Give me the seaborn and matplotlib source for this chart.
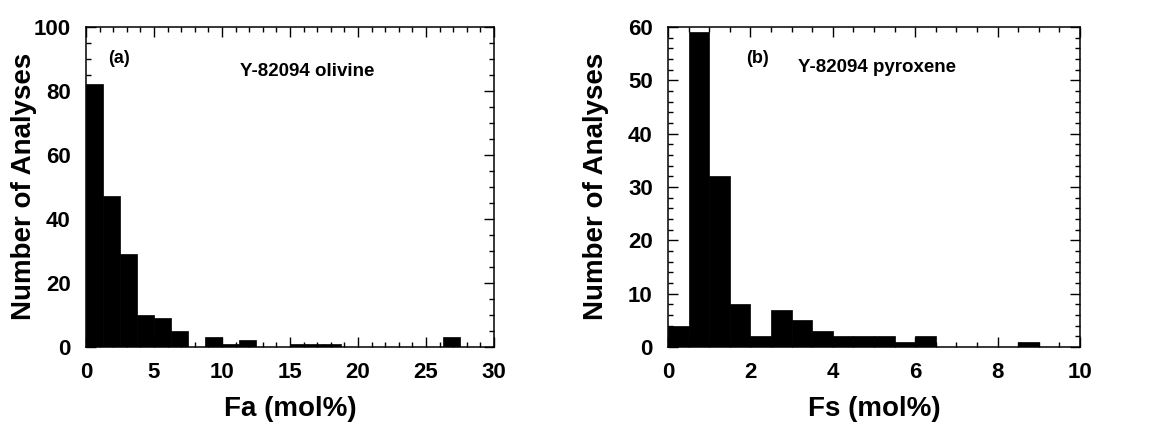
import numpy as np
import pandas as pd
import seaborn as sns
import matplotlib.pyplot as plt
from matplotlib.ticker import MultipleLocator

# (a) olivine Fa, bins of 1.25 mol%
fa_edges = [i * 1.25 for i in range(25)]
fa_counts = [82, 47, 29, 10, 9, 5, 0, 3, 1, 2, 0, 0,
             1, 1, 1, 0, 0, 0, 0, 0, 0, 3, 0, 0]

# (b) pyroxene Fs, bins of 0.5 mol%
fs_edges = [i * 0.5 for i in range(21)]
fs_counts = [4, 59, 32, 8, 2, 7, 5, 3, 2, 2,
             2, 1, 2, 0, 0, 0, 0, 1, 0, 0]

sns.set_theme(style="ticks")
plt.rcParams["font.family"] = ["Liberation Sans", "DejaVu Sans"]
plt.rcParams["font.weight"] = "bold"
for key in ["text.color", "axes.labelcolor", "xtick.color", "ytick.color"]:
    plt.rcParams[key] = "black"

fig = plt.figure(figsize=(11.51, 4.23), dpi=100)
ax1 = fig.add_axes([0.0747, 0.18, 0.3545, 0.7565])
ax2 = fig.add_axes([0.5804, 0.18, 0.358, 0.7565])


def draw_panel(ax, edges, counts, xlabel, ymax, xmaj, xmin, ymaj, ymin, ypad):
    e = np.asarray(edges)
    df = pd.DataFrame({"x": (e[:-1] + e[1:]) / 2,
                       "n": np.asarray(counts, dtype=float)})
    sns.histplot(data=df, x="x", weights="n", bins=list(edges), ax=ax,
                 color="black", edgecolor="black", alpha=1, linewidth=0.5)
    ax.set_xlim(edges[0], edges[-1])
    ax.set_ylim(0, ymax)
    ax.xaxis.set_major_locator(MultipleLocator(xmaj))
    ax.xaxis.set_minor_locator(MultipleLocator(xmin))
    ax.yaxis.set_major_locator(MultipleLocator(ymaj))
    ax.yaxis.set_minor_locator(MultipleLocator(ymin))
    ax.tick_params(which="both", direction="in", top=True, right=True,
                   labelsize=16, width=1, color="black")
    ax.tick_params(which="major", length=7, pad=11)
    ax.tick_params(which="minor", length=3.5)
    for lbl in ax.get_xticklabels() + ax.get_yticklabels():
        lbl.set_fontweight("bold")
    for s in ax.spines.values():
        s.set_linewidth(1.1)
        s.set_color("black")
    ax.set_xlabel(xlabel, fontsize=20, fontweight="bold", labelpad=9)
    ax.set_ylabel("Number of Analyses", fontsize=20, fontweight="bold",
                  labelpad=ypad)


draw_panel(ax1, fa_edges, fa_counts, "Fa (mol%)", 100, 5, 1, 20, 5, -2.5)
draw_panel(ax2, fs_edges, fs_counts, "Fs (mol%)", 60, 2, 0.5, 10, 2, 14)

ax1.text(1.6, 90, "(a)", fontsize=13, fontweight="bold", va="center")
ax1.text(11.3, 86, "Y-82094 olivine", fontsize=13.5, fontweight="bold", va="center")
ax2.text(1.9, 54, "(b)", fontsize=13, fontweight="bold", va="center")
ax2.text(3.15, 52.3, "Y-82094 pyroxene", fontsize=13.5, fontweight="bold", va="center")

fig.savefig("out.png", dpi=100)
